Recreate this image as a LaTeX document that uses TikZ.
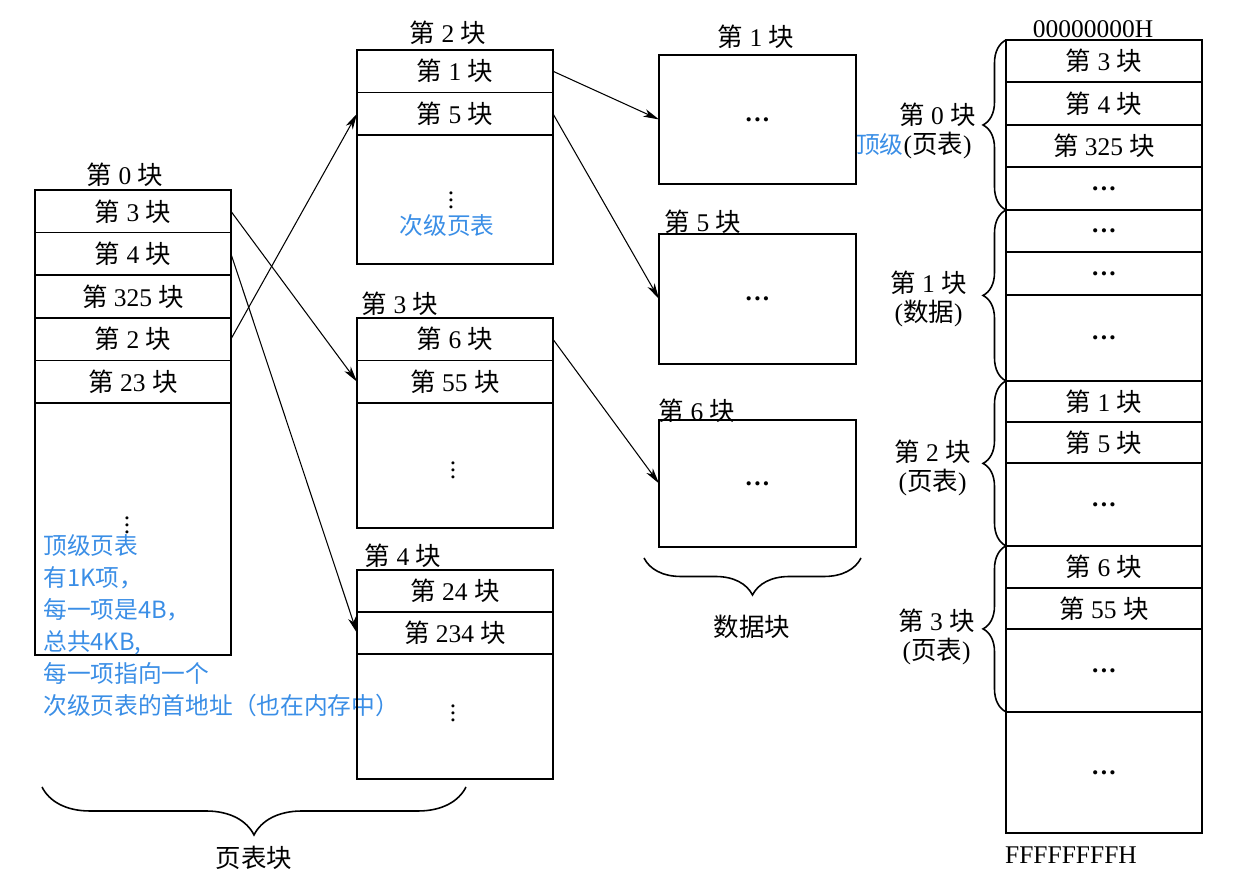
\documentclass[tikz,border=0pt]{standalone}
\usepackage{fontspec}
\setmainfont{Liberation Serif}
\newfontfamily\cjk{Noto Sans CJK SC}
\usetikzlibrary{positioning, arrows.meta, decorations.pathreplacing}

\definecolor{noteblue}{HTML}{3A8EE6}
\newcommand{\blk}[1]{{\cjk 第}~#1~{\cjk 块}}
\newcommand{\hdots}{\textbf{.\kern1.3pt.\kern1.3pt.}}

\tikzset{
  cell/.style={draw, line width=0.9pt, minimum width=3.92cm, minimum height=#1,
    inner sep=0pt, outer sep=0pt},
  vdot/.style={inner sep=0pt},
  conn/.style={-{Stealth[length=9pt, width=4.5pt, inset=2.5pt]}, line width=0.6pt},
  curly/.style={decorate, decoration={brace, amplitude=#1}, line width=0.9pt},
  note/.style={text=noteblue, font=\cjk\fontsize{13.5pt}{18.2pt}\selectfont}
}

\begin{document}
\begin{tikzpicture}[x=0.02cm, y=-0.02cm, font=\fontsize{14.5pt}{16pt}\selectfont]
  \useasboundingbox (0,0) rectangle (1242,884);

  % top-level page table (block 0)
  \node (h0) at (125,175) {\blk{0}};
  \node[cell=0.852cm, anchor=north west] (t0r1) at (35,190) {\blk{3}};
  \node[cell=0.852cm, below=0pt of t0r1] (t0r2) {\blk{4}};
  \node[cell=0.852cm, below=0pt of t0r2] (t0r3) {\blk{325}};
  \node[cell=0.852cm, below=0pt of t0r3] (t0r4) {\blk{2}};
  \node[cell=0.852cm, below=0pt of t0r4] (t0r5) {\blk{23}};
  \node[cell=5.04cm, below=0pt of t0r5] (t0rest) {};
  \node[vdot] (t0dots) at (127,520) {$\vdots$};
  \node[note, anchor=north west, align=left, inner sep=0pt] (topnote) at (43,534)
    {顶级页表\\有1K项，\\每一项是4B，\\总共4KB,\\每一项指向一个\\次级页表的首地址（也在内存中）};

  % second-level page tables
  \node (h2) at (448,33) {\blk{2}};
  \node[cell=0.85cm, anchor=north west] (t2r1) at (357,50) {\blk{1}};
  \node[cell=0.85cm, below=0pt of t2r1] (t2r2) {\blk{5}};
  \node[cell=2.58cm, below=0pt of t2r2] (t2rest) {};
  \node[vdot] (t2dots) at (451,195) {$\vdots$};
  \node[note] (subnote) at (447,226) {次级页表};

  \node (h3) at (400,304) {\blk{3}};
  \node[cell=0.85cm, anchor=north west] (t3r1) at (357,318) {\blk{6}};
  \node[cell=0.85cm, below=0pt of t3r1] (t3r2) {\blk{55}};
  \node[cell=2.5cm, below=0pt of t3r2] (t3rest) {};
  \node[vdot] (t3dots) at (453,465) {$\vdots$};

  \node (h4) at (403,556) {\blk{4}};
  \node[cell=0.84cm, anchor=north west] (t4r1) at (357,570) {\blk{24}};
  \node[cell=0.84cm, below=0pt of t4r1] (t4r2) {\blk{234}};
  \node[cell=2.5cm, below=0pt of t4r2] (t4rest) {};
  \node[vdot] (t4dots) at (453,708) {$\vdots$};

  % data blocks
  \node (hd1) at (756,37) {\blk{1}};
  \node[cell=2.58cm, minimum width=3.94cm, anchor=north west] (d1) at (659,55) {\hdots};
  \node (hd5) at (703,222) {\blk{5}};
  \node[cell=2.6cm, minimum width=3.94cm, anchor=north west] (d5) at (659,234) {\hdots};
  \node (hd6) at (697,411) {\blk{6}};
  \node[cell=2.54cm, minimum width=3.94cm, anchor=north west] (d6) at (659,420) {\hdots};

  \draw[curly=0.74cm] (861,558) -- (644,558);
  \node (dlab) at (752,627) {\cjk 数据块};
  \draw[curly=0.96cm] (466,787) -- (42,787);
  \node (plab) at (254,858) {\cjk 页表块};

  % pointers
  \draw[conn] (t0r1.east) -- (t3r2.west);
  \draw[conn] (t0r2.east) -- (t4r2.west);
  \draw[conn] (t0r4.east) -- (t2r2.west);
  \draw[conn] (t2r1.east) -- (d1.west);
  \draw[conn] (t2r2.east) -- (d5.west);
  \draw[conn] (t3r1.east) -- (d6.west);

  % memory layout
  \node (addr0) at (1093,29) {00000000H};
  \node[cell=0.84cm, anchor=north west] (m1) at (1006,40) {\blk{3}};
  \node[cell=0.86cm, below=0pt of m1] (m2) {\blk{4}};
  \node[cell=0.84cm, below=0pt of m2] (m3) {\blk{325}};
  \node[cell=0.86cm, below=0pt of m3] (m4) {\hdots};
  \node[cell=0.84cm, below=0pt of m4] (m5) {\hdots};
  \node[cell=0.86cm, below=0pt of m5] (m6) {\hdots};
  \node[cell=1.72cm, below=0pt of m6] (m7) {\hdots};
  \node[cell=0.82cm, below=0pt of m7] (m8) {\blk{1}};
  \node[cell=0.82cm, below=0pt of m8] (m9) {\blk{5}};
  \node[cell=1.66cm, below=0pt of m9] (m10) {\hdots};
  \node[cell=0.84cm, below=0pt of m10] (m11) {\blk{6}};
  \node[cell=0.82cm, below=0pt of m11] (m12) {\blk{55}};
  \node[cell=1.66cm, below=0pt of m12] (m13) {\hdots};
  \node[cell=2.42cm, below=0pt of m13] (m14) {\hdots};
  \node (addr1) at (1071,855) {FFFFFFFFH};

  \draw[curly=0.46cm] (m4.south west) -- (m1.north west);
  \draw[curly=0.46cm] (m7.south west) -- (m5.north west);
  \draw[curly=0.46cm] (m10.south west) -- (m8.north west);
  \draw[curly=0.46cm] (m13.south west) -- (m11.north west);
  \node[align=center, anchor=east] (g0) at (982,131)
    {\blk{0}\\\llap{\color{noteblue}\cjk\fontsize{13.5pt}{16pt}\selectfont 顶级}({\cjk 页表})};
  \node[align=center, anchor=east] (g1) at (973,299) {\blk{1}\\({\cjk 数据})};
  \node[align=center, anchor=east] (g2) at (977,468) {\blk{2}\\({\cjk 页表})};
  \node[align=center, anchor=east] (g3) at (981,637) {\blk{3}\\({\cjk 页表})};
\end{tikzpicture}
\end{document}
